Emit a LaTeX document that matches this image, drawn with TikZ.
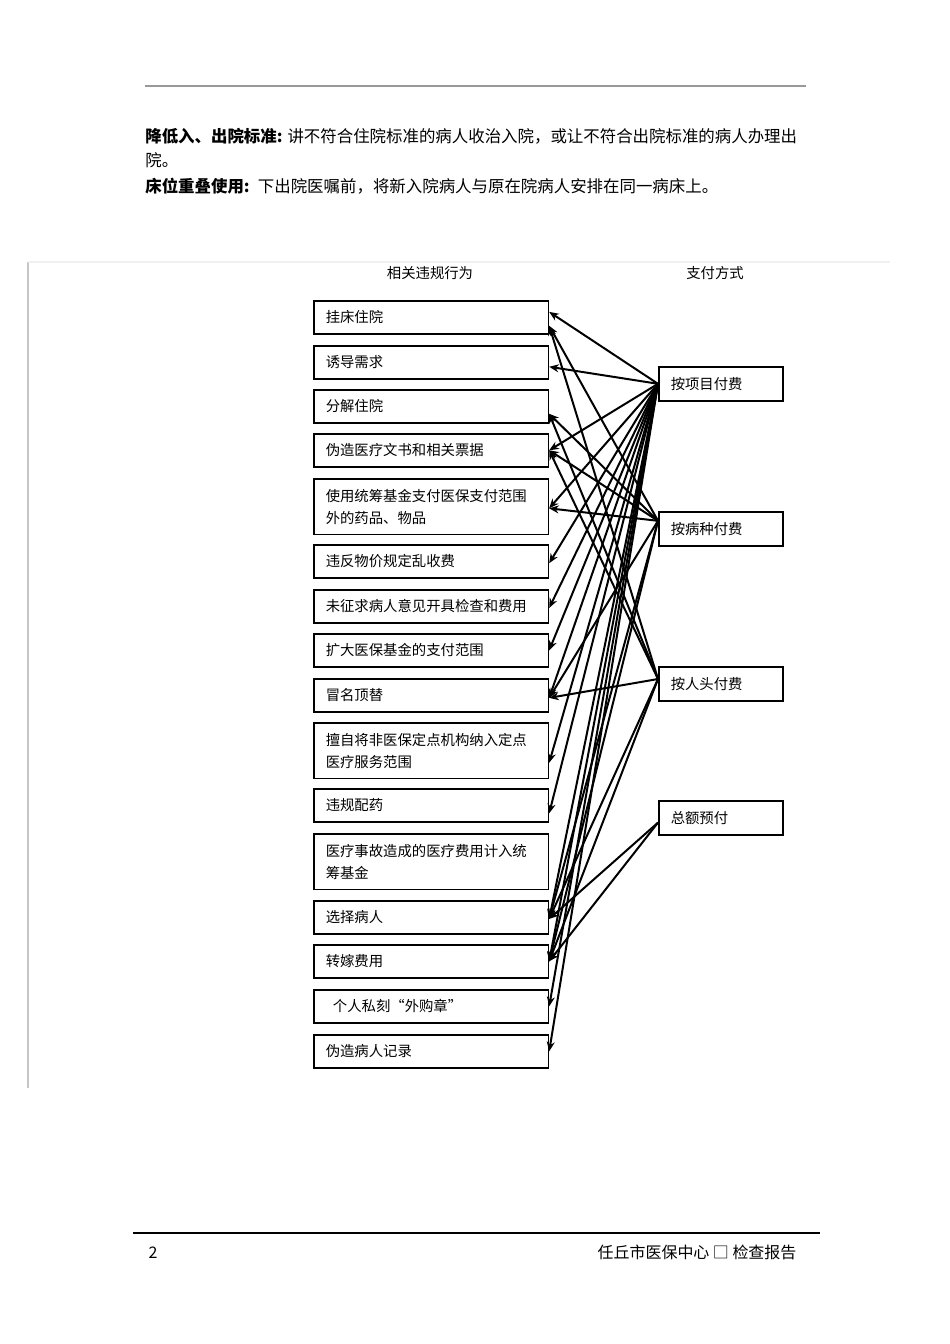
\documentclass[tikz,border=0pt]{standalone}
\usepackage{fontspec}
\setmainfont{Noto Sans CJK SC}
\usetikzlibrary{arrows.meta}

\begin{document}
\begin{tikzpicture}[x=0.6266pt, y=-0.6266pt,
  act/.style={draw, line width=1pt, anchor=north west, minimum height=20.7pt, text width=132pt, inner xsep=7.5pt, align=left, font=\fontsize{9}{13.8}\selectfont},
  acttwo/.style={act, minimum height=35pt},
  pay/.style={draw, line width=1pt, anchor=north west, minimum height=21.3pt, text width=62.7pt, inner xsep=7.5pt, align=left, font=\fontsize{9}{11}\selectfont},
  head/.style={font=\fontsize{9}{11}\selectfont},
  para/.style={anchor=base west, inner sep=0pt, font=\fontsize{10.3}{15}\selectfont},
  arr/.style={-{Stealth[length=6pt, width=5pt]}, line width=1.25pt},
  >=Stealth
]
\useasboundingbox (0,0) rectangle (950,1344);

% page text and rules
\draw[gray!80, line width=1.2pt] (145,86) -- (806,86);
\node[para] (l1) at (145,142) {\textbf{降低入、出院标准:} 讲不符合住院标准的病人收治入院，或让不符合出院标准的病人办理出};
\node[para] (l2) at (145,166) {院。};
\node[para] (l3) at (145,192) {\textbf{床位重叠使用:}\enspace 下出院医嘱前，将新入院病人与原在院病人安排在同一病床上。};

\draw[gray!45, line width=1pt] (28,262) -- (28,1088);
\draw[gray!12, line width=0.8pt] (28,262) -- (890,262);

% column heads
\node[head] (hact) at (430,273) {相关违规行为};
\node[head] (hpay) at (715,273) {支付方式};

% violations
\node[act] (b1) at (313,300) {挂床住院};
\node[act] (b2) at (313,345) {诱导需求};
\node[act] (b3) at (313,389) {分解住院};
\node[act] (b4) at (313,433) {伪造医疗文书和相关票据};
\node[acttwo] (b5) at (313,478) {使用统筹基金支付医保支付范围\\外的药品、物品};
\node[act] (b6) at (313,544) {违反物价规定乱收费};
\node[act] (b7) at (313,589) {未征求病人意见开具检查和费用};
\node[act] (b8) at (313,633) {扩大医保基金的支付范围};
\node[act] (b9) at (313,678) {冒名顶替};
\node[acttwo] (b10) at (313,722) {擅自将非医保定点机构纳入定点\\医疗服务范围};
\node[act] (b11) at (313,788) {违规配药};
\node[acttwo] (b12) at (313,833) {医疗事故造成的医疗费用计入统\\筹基金};
\node[act] (b13) at (313,900) {选择病人};
\node[act] (b14) at (313,944) {转嫁费用};
\node[act] (b15) at (313,989) {\hspace{0.5em}个人私刻“外购章”};
\node[act] (b16) at (313,1034) {伪造病人记录};

% payment methods
\node[pay] (p1) at (658,366) {按项目付费};
\node[pay] (p2) at (658,511) {按病种付费};
\node[pay] (p3) at (658,666) {按人头付费};
\node[pay] (p4) at (658,800) {总额预付};

\coordinate (p1o) at (p1.west);
\coordinate (p2o) at ([yshift=5pt]p2.west);
\coordinate (p3o) at ([yshift=3pt]p3.west);
\coordinate (p4o) at ([yshift=-3pt]p4.west);

% fee for service
\draw[arr] (p1o) -- ([yshift=3.4pt]b1.east);
\draw[arr] (p1o) -- ([yshift=-2.8pt]b2.east);
\draw[arr] (p1o) -- (b4.east);
\draw[arr] (p1o) -- ([yshift=-1pt]b5.east);
\draw[arr] (p1o) -- ([yshift=-1.2pt]b6.east);
\draw[arr] (p1o) -- ([yshift=-1pt]b7.east);
\draw[arr] (p1o) -- (b8.east);
\draw[arr] (p1o) -- ([yshift=-1.6pt]b9.east);
\draw[arr] (p1o) -- ([yshift=-7.5pt]b10.east);
\draw[arr] (p1o) -- ([yshift=-5pt]b11.east);
\draw[arr] (p1o) -- ([yshift=-1pt]b13.east);
\draw[arr] (p1o) -- (b14.east);
\draw[arr] (p1o) -- (b15.east);
\draw[arr] (p1o) -- (b16.east);

% per disease
\draw[arr] (p2o) -- ([yshift=-5.3pt]b1.east);
\draw[arr] (p2o) -- ([yshift=-4.7pt]b3.east);
\draw[arr] (p2o) -- (b4.east);
\draw[arr] (p2o) -- ([yshift=-1pt]b5.east);
\draw[arr] (p2o) -- ([yshift=-1.6pt]b9.east);
\draw[arr] (p2o) -- ([yshift=-1pt]b13.east);
\draw[arr] (p2o) -- (b14.east);

% per capita
\draw[arr] (p3o) -- ([yshift=-5.3pt]b1.east);
\draw[arr] (p3o) -- ([yshift=-4.7pt]b3.east);
\draw[arr] (p3o) -- (b4.east);
\draw[arr] (p3o) -- ([yshift=-1.6pt]b9.east);
\draw[arr] (p3o) -- ([yshift=-1pt]b13.east);
\draw[arr] (p3o) -- (b14.east);

% global budget
\draw[arr] (p4o) -- ([yshift=-1pt]b13.east);
\draw[arr] (p4o) -- (b14.east);

% footer
\draw[line width=0.8pt] (133,1233) -- (820,1233);
\node[anchor=base west, font=\fontsize{10}{12}\selectfont] (pg) at (143,1258) {2};
\node[anchor=base east, font=\fontsize{10}{12}\selectfont] (ft) at (802,1258) {任丘市医保中心 □ 检查报告};
\end{tikzpicture}
\end{document}
